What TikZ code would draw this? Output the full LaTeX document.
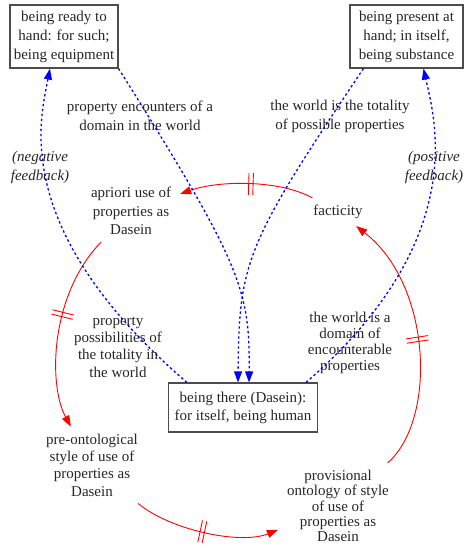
\documentclass[tikz,border=0pt]{standalone}
\usepackage{fontspec}
\setmainfont{Liberation Serif}
\usetikzlibrary{arrows.meta,decorations.markings}

\begin{document}
\begin{tikzpicture}[x=1pt, y=-1pt,
  mode/.style={draw=black!70, line width=1.2pt, align=center, inner sep=2pt,
    font=\fontsize{15}{19}\selectfont, text=black!85},
  lbl/.style={align=center, inner xsep=9pt, inner ysep=7pt,
    font=\fontsize{15}{#1}\selectfont, text=black!85},
  lbl/.default=17.5,
  flow/.style={red, line width=0.9pt, -{Triangle[length=11pt,width=8pt]}},
  link/.style={blue, line width=1.3pt, dash pattern=on 2.4pt off 2.6pt,
    -{Triangle[length=11pt,width=8pt]}},
  gap/.style={postaction={decorate, decoration={markings,
    mark=at position #1 with {\draw[-, red, line width=0.9pt, solid]
      (-2.2pt,-11pt) -- (-2.2pt,11pt) (2.2pt,-11pt) -- (2.2pt,11pt);}}}}
]
  \useasboundingbox (0,0) rectangle (474,556);

  % boxed modes of being
  \node[mode, minimum width=108pt, minimum height=63pt] (ready) at (64,36.5)
    {being ready to\\hand: for such;\\being equipment};
  \node[mode, minimum width=113pt, minimum height=63pt] (present) at (406.5,36.5)
    {being present at\\hand; in itself,\\being substance};
  \node[mode, minimum width=149pt, minimum height=49pt,
    font=\fontsize{15}{18}\selectfont] (there) at (243,407.5)
    {being there (Dasein):\\for itself, being human};

  % loop of styles
  \node[lbl=18.5] (apriori) at (131,211) {apriori use of\\properties as\\Dasein};
  \node[lbl] (fact) at (338,212) {facticity};
  \node[lbl=17.3] (pre) at (92,465)
    {pre-ontological\\style of use of\\properties as\\Dasein};
  \node[lbl=15.3] (prov) at (338,506)
    {provisional\\ontology of style\\of use of\\properties as\\Dasein};

  % edge labels
  \node[lbl=19] (encA) at (140,116) {property encounters of a\\domain in the world};
  \node[lbl=19] (encB) at (340,116) {the world is the totality\\of possible properties};
  \node[lbl=19, font=\fontsize{15}{19}\selectfont\itshape] (neg) at (40,167)
    {(negative\\feedback)};
  \node[lbl=19, font=\fontsize{15}{19}\selectfont\itshape] (pos) at (434,167)
    {(positive\\feedback)};
  \node[lbl=17.3] (possib) at (118,347)
    {property\\possibilities of\\the totality in\\the world};
  \node[lbl=16] (domain) at (350,343)
    {the world is a\\domain of\\encounterable\\properties};

  % red cycle
  \draw[flow, gap=0.47] (fact) .. controls (280,180) and (220,180) .. (apriori);
  \draw[flow, gap=0.42] (apriori) .. controls (50,295) and (48,385) .. (pre);
  \draw[flow, gap=0.48] (pre) .. controls (170,530) and (240,545) .. (prov);
  \draw[flow, gap=0.5] (prov) .. controls (437,420) and (432,285) .. (fact);

  % blue links
  \draw[link] (ready.south east) .. controls (242,265) and (250,290)
    .. ([xshift=6pt]there.north);
  \draw[link] ([xshift=14pt]present.south west) .. controls (245,245) and (239,262)
    .. ([xshift=-5pt]there.north);
  \draw[link] ([xshift=19pt]there.north west) .. controls (10,230) and (40,120)
    .. ([xshift=-14pt]ready.south);
  \draw[link] ([xshift=-12pt]there.north east) .. controls (470,240) and (435,120)
    .. ([xshift=17pt]present.south);

\end{tikzpicture}
\end{document}
